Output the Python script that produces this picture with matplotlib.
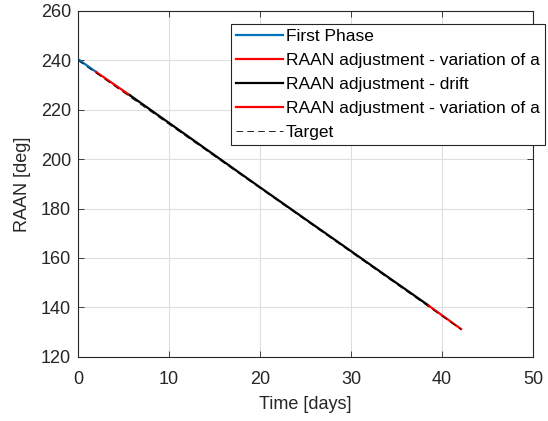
import numpy as np
import matplotlib
matplotlib.use('Agg')
import matplotlib.pyplot as plt

# segments (time in days, RAAN in deg)
t_first = [0.0, 2.0]
raan_first = [240.5, 235.3]

t_adj1 = [2.0, 5.7]
raan_adj1 = [235.3, 225.9]

t_drift = [5.7, 20.0, 38.5]
raan_drift = [225.9, 188.6, 140.8]

t_adj2 = [38.5, 42.1]
raan_adj2 = [140.8, 131.2]

t_target = [0.0, 42.1]
raan_target = [240.0, 131.0]

plt.rcParams['font.family'] = ['Liberation Sans', 'DejaVu Sans']
axcol = '0.15'
fs = 13

fig = plt.figure(figsize=(5.48, 4.21), dpi=100)
ax = fig.add_axes([0.1423, 0.1527, 0.8303, 0.8212])

ax.plot(t_first, raan_first, color='#0072BD', lw=1.6, label='First Phase')
ax.plot(t_adj1, raan_adj1, color='#FF0000', lw=1.6, label='RAAN adjustment - variation of a')
ax.plot(t_drift, raan_drift, color='black', lw=1.6, label='RAAN adjustment - drift')
ax.plot(t_adj2, raan_adj2, color='#FF0000', lw=1.6, label='RAAN adjustment - variation of a')
ax.plot(t_target, raan_target, color='black', lw=0.6, ls=(0, (8, 5)), label='Target')

ax.set_xlim(0, 50)
ax.set_ylim(120, 260)
ax.set_xticks(np.arange(0, 51, 10))
ax.set_yticks(np.arange(120, 261, 20))
ax.grid(True, color='0.87', lw=0.8)
ax.set_axisbelow(True)
ax.tick_params(direction='in', top=True, right=True, labelsize=fs,
               colors=axcol, length=4, width=0.6)
ax.tick_params(axis='x', pad=10)
ax.tick_params(axis='y', pad=5)
for s in ax.spines.values():
    s.set_color(axcol)
    s.set_linewidth(0.8)

ax.set_xlabel('Time [days]', fontsize=fs, color=axcol, labelpad=6)
ax.set_ylabel('RAAN [deg]', fontsize=fs, color=axcol, labelpad=7)

leg = ax.legend(loc='upper right', bbox_to_anchor=(545/548, 1 - 24/421),
                bbox_transform=fig.transFigure, fontsize=12.5, frameon=True,
                fancybox=False, edgecolor=axcol, framealpha=1,
                handlelength=2.7, handletextpad=0.15, labelspacing=0.5,
                borderpad=0.3, borderaxespad=0)
leg.get_frame().set_linewidth(0.8)
for txt in leg.get_texts():
    txt.set_color('black')

fig.savefig('out.png', dpi=100)
